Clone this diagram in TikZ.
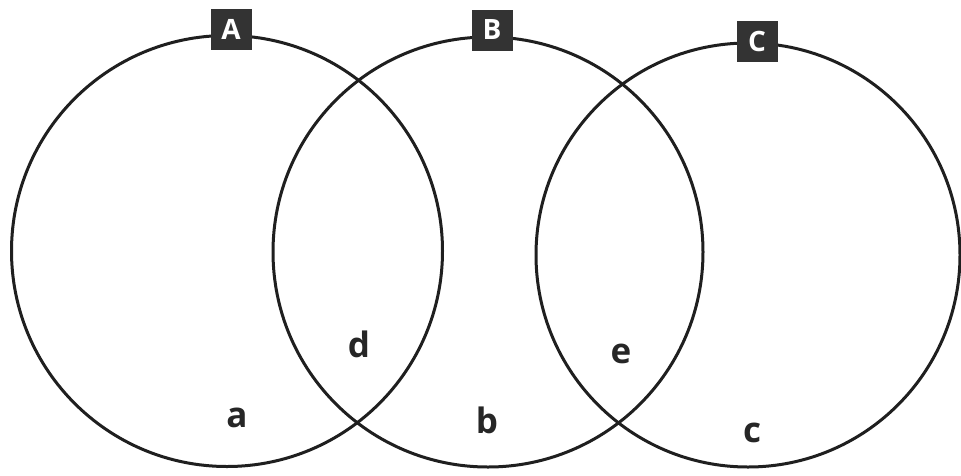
\documentclass[tikz,border=0pt]{standalone}
\usepackage{fontspec}
\setmainfont{Open Sans}
\begin{document}
\begin{tikzpicture}[x=1pt,y=-1pt,
  ring/.style={draw=black!88,line width=3pt,circle,inner sep=0pt,outer sep=0pt},
  tag/.style={fill=black!80,text=white,minimum size=41pt,inner sep=0pt,font=\fontsize{28}{28}\selectfont\bfseries},
  lbl/.style={font=\fontsize{35}{35}\selectfont\bfseries,text=black!85,anchor=base,inner sep=0pt}]
\useasboundingbox[fill=white] (0,0) rectangle (961,475);
\node[ring,minimum size=431pt] (cA) at (227,251) {};
\node[ring,minimum size=430pt] (cB) at (488,252) {};
\node[ring,minimum size=424pt] (cC) at (748,255) {};
\node[tag] (tA) at (231,29) {A};
\node[tag] (tB) at (492,30) {B};
\node[tag] (tC) at (757,41) {C};
\node[lbl] (ld) at (359,357) {d};
\node[lbl] (le) at (621,363) {e};
\node[lbl] (la) at (237,427) {a};
\node[lbl] (lb) at (487,433) {b};
\node[lbl] (lc) at (752,442) {c};
\end{tikzpicture}
\end{document}
